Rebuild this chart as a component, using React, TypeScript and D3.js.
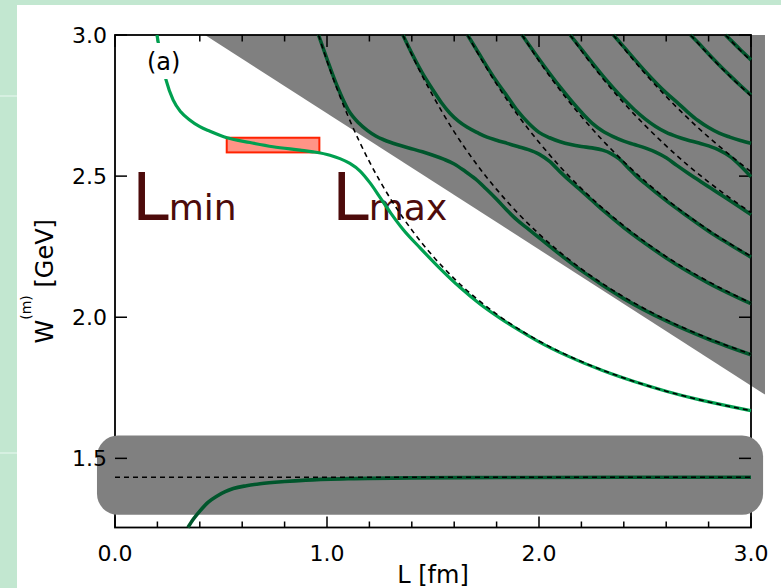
import React from 'react';
import * as d3 from 'd3';

// ---- data ----
const xMajor = [0, 1, 2, 3];
const xMajorLabels = ['0.0', '1.0', '2.0', '3.0'];
const xMinor = [0.2, 0.4, 0.6, 0.8, 1.2, 1.4, 1.6, 1.8, 2.2, 2.4, 2.6, 2.8];
const yMajor = [1.5, 2.0, 2.5, 3.0];
const yMajorLabels = ['1.5', '2.0', '2.5', '3.0'];

// gray excluded regions
const wedgeL = [0.4245, 3.066, 3.066];
const wedgeW = [3.0, 3.0, 1.726];
const bandL = [-0.085, 3.057];
const bandW = [1.300, 1.581];

// plateau box
const boxL = [0.527, 0.964];
const boxW = [2.584, 2.636];

// threshold (dashed horizontal)
const thresholdW = 1.433;

// free levels (dashed)
const free1 = [[0.96,3.0],[1.0,2.908],[1.05,2.804],[1.1,2.711],[1.15,2.627],[1.2,2.551],[1.3,2.419],[1.4,2.309],[1.5,2.216],[1.6,2.137],[1.8,2.011],[2.0,1.916],[2.2,1.843],[2.4,1.785],[2.6,1.738],[2.8,1.700],[3.0,1.669]];
const free2 = [[1.358,3.0],[1.4,2.930],[1.45,2.854],[1.5,2.784],[1.6,2.657],[1.7,2.548],[1.8,2.453],[1.9,2.369],[2.0,2.295],[2.2,2.171],[2.4,2.072],[2.6,1.991],[2.8,1.925],[3.0,1.869]];
const free3 = [[1.663,3.0],[1.7,2.950],[1.8,2.826],[1.9,2.716],[2.0,2.620],[2.1,2.533],[2.2,2.456],[2.4,2.324],[2.6,2.215],[2.8,2.126],[3.0,2.050]];
const free4 = [[1.92,3.0],[2.0,2.908],[2.1,2.804],[2.2,2.711],[2.3,2.627],[2.4,2.551],[2.5,2.482],[2.6,2.419],[2.8,2.309],[3.0,2.216]];
const free5 = [[2.147,3.0],[2.2,2.944],[2.3,2.847],[2.4,2.759],[2.5,2.680],[2.6,2.607],[2.7,2.540],[2.8,2.479],[2.9,2.423],[3.0,2.371]];
const free6 = [[2.351,3.0],[2.4,2.953],[2.5,2.864],[2.6,2.782],[2.7,2.707],[2.8,2.638],[2.9,2.575],[3.0,2.516]];
const free8 = [[2.715,3.0],[2.8,2.930],[2.9,2.854],[3.0,2.784]];
const free9 = [[2.88,3.0],[2.95,2.945],[3.0,2.908]];

// interacting levels (green)
const level0 = [[0.344,1.255],[0.37,1.285],[0.401,1.314],[0.44,1.345],[0.48,1.366],[0.52,1.382],[0.558,1.393],[0.62,1.403],[0.684,1.410],[0.8,1.418],[0.9,1.423],[1.1,1.428],[1.4,1.431],[1.8,1.432],[2.4,1.433],[3.0,1.433]];
const level1 = [[0.198,3.0],[0.217,2.92],[0.241,2.84],[0.274,2.77],[0.311,2.727],[0.354,2.698],[0.40,2.675],[0.448,2.659],[0.528,2.636],[0.637,2.619],[0.745,2.604],[0.873,2.592],[0.934,2.586],[1.014,2.574],[1.061,2.562],[1.108,2.545],[1.156,2.518],[1.203,2.476],[1.25,2.425],[1.30,2.37],[1.36,2.31],[1.44,2.245],[1.53,2.175],[1.627,2.106],[1.72,2.048],[1.816,1.997],[1.9,1.957],[2.0,1.913],[2.131,1.864],[2.30,1.811],[2.445,1.773],[2.6,1.738],[2.759,1.707],[2.9,1.684],[3.0,1.669]];
const level2 = [[0.96,3.0],[1.0,2.915],[1.05,2.815],[1.1,2.735],[1.15,2.688],[1.19,2.662],[1.23,2.642],[1.27,2.628],[1.33,2.612],[1.39,2.599],[1.45,2.586],[1.5,2.574],[1.55,2.560],[1.6,2.543],[1.65,2.518],[1.7,2.490],[1.75,2.455],[1.8,2.418],[1.85,2.378],[1.9,2.342],[1.95,2.312],[2.0,2.282],[2.1,2.222],[2.2,2.165],[2.4,2.066],[2.6,1.987],[2.8,1.922],[3.0,1.867]];
const level3 = [[1.358,3.0],[1.4,2.935],[1.45,2.865],[1.5,2.805],[1.54,2.760],[1.58,2.723],[1.62,2.695],[1.66,2.674],[1.71,2.654],[1.755,2.638],[1.8,2.627],[1.85,2.616],[1.9,2.605],[1.95,2.594],[2.0,2.578],[2.05,2.552],[2.1,2.515],[2.15,2.480],[2.2,2.448],[2.3,2.380],[2.4,2.318],[2.5,2.262],[2.6,2.210],[2.8,2.121],[3.0,2.048]];
const level4 = [[1.663,3.0],[1.7,2.955],[1.8,2.835],[1.85,2.783],[1.9,2.730],[1.95,2.688],[2.0,2.655],[2.05,2.636],[2.1,2.622],[2.15,2.612],[2.2,2.605],[2.25,2.600],[2.3,2.592],[2.34,2.580],[2.38,2.560],[2.42,2.530],[2.46,2.500],[2.5,2.474],[2.6,2.413],[2.7,2.358],[2.8,2.305],[2.9,2.258],[3.0,2.213]];
const level5 = [[1.92,3.0],[2.0,2.915],[2.1,2.815],[2.2,2.726],[2.25,2.688],[2.3,2.660],[2.35,2.640],[2.4,2.624],[2.45,2.612],[2.5,2.600],[2.55,2.585],[2.6,2.565],[2.65,2.538],[2.7,2.512],[2.75,2.487],[2.8,2.462],[2.9,2.414],[3.0,2.364]];
const level6 = [[2.147,3.0],[2.2,2.950],[2.3,2.856],[2.4,2.772],[2.45,2.735],[2.5,2.703],[2.55,2.676],[2.6,2.655],[2.65,2.640],[2.7,2.628],[2.75,2.618],[2.8,2.607],[2.85,2.592],[2.9,2.570],[2.95,2.537],[3.0,2.498]];
const level7 = [[2.351,3.0],[2.4,2.958],[2.5,2.872],[2.6,2.795],[2.65,2.762],[2.7,2.728],[2.75,2.697],[2.8,2.672],[2.85,2.652],[2.9,2.638],[2.95,2.626],[3.0,2.616]];
const level8 = [[2.715,3.0],[2.75,2.973],[2.8,2.933],[2.85,2.894],[2.9,2.857],[2.95,2.821],[3.0,2.787]];
const level9 = [[2.88,3.0],[2.95,2.948],[3.0,2.912]];

const freeLevels = [free1, free2, free3, free4, free5, free6, free8, free9];
const darkLevels = [level0, level2, level3, level4, level5, level6, level7, level8, level9];

const FONT = '"DejaVu Sans", Verdana, sans-serif';
const DARK = '#00562c';
const LIGHT = '#00a050';
const LABEL = '#4d0b0b';

export default function App() {
  const x = d3.scaleLinear().domain([0, 3]).range([115, 751]);
  const y = d3.scaleLinear().domain([1.255, 3.0]).range([527.5, 35]);
  const line = d3.line<number[]>().x(d => x(d[0])).y(d => y(d[1])).curve(d3.curveMonotoneX);

  const x0 = x(0), x1 = x(3), yTop = y(3.0), yBot = y(1.255);
  const wedge = wedgeL.map((l, i) => `${x(l)},${y(wedgeW[i])}`).join(' ');

  return (
    <div style={{ position: 'absolute', left: 0, top: 0 }}>
      <svg width={781} height={588} style={{ display: 'block' }}>
        <rect x={0} y={0} width={781} height={588} fill="#c2e7d0" />
        <rect x={0} y={95} width={17} height={2} fill="#d6f0e1" />
        <rect x={0} y={452} width={17} height={2} fill="#d6f0e1" />
        <rect x={17} y={5} width={764} height={583} fill="#ffffff" />

        {/* gray wedge */}
        <polygon points={wedge} fill="#808080" />

        {/* frame */}
        <rect x={x0} y={yTop} width={x1 - x0} height={yBot - yTop} fill="none" stroke="#000" strokeWidth={1.8} />

        {/* gray band */}
        <rect x={x(bandL[0])} y={y(bandW[1])} width={x(bandL[1]) - x(bandL[0])} height={y(bandW[0]) - y(bandW[1])} rx={21} ry={21} fill="#808080" />

        {/* ticks */}
        {xMajor.map(v => (
          <g key={'xm' + v}>
            <line x1={x(v)} x2={x(v)} y1={yBot} y2={yBot - 11} stroke="#000" strokeWidth={1.5} />
            <line x1={x(v)} x2={x(v)} y1={yTop} y2={yTop + 12} stroke="#000" strokeWidth={1.5} />
          </g>
        ))}
        {xMinor.map(v => (
          <g key={'xn' + v}>
            <line x1={x(v)} x2={x(v)} y1={yBot} y2={yBot - 6} stroke="#000" strokeWidth={1.5} />
            <line x1={x(v)} x2={x(v)} y1={yTop} y2={yTop + 6.5} stroke="#000" strokeWidth={1.5} />
          </g>
        ))}
        {yMajor.map(v => (
          <g key={'ym' + v}>
            <line x1={x0} x2={x0 + 12} y1={y(v)} y2={y(v)} stroke="#000" strokeWidth={1.5} />
            <line x1={x1} x2={x1 - 12} y1={y(v)} y2={y(v)} stroke="#000" strokeWidth={1.5} />
          </g>
        ))}

        {/* big labels */}
        <text x={132} y={220} fill={LABEL} fontFamily={FONT} fontSize={66}>L<tspan fontSize={36}>min</tspan></text>
        <text x={332} y={220} fill={LABEL} fontFamily={FONT} fontSize={66}>L<tspan fontSize={36}>max</tspan></text>

        {/* plateau box */}
        <rect x={x(boxL[0])} y={y(boxW[1])} width={x(boxL[1]) - x(boxL[0])} height={y(boxW[0]) - y(boxW[1])} fill="#ff9486" stroke="#ff2200" strokeWidth={2} />

        {/* interacting levels */}
        {darkLevels.map((lv, i) => (
          <path key={'d' + i} d={line(lv) || ''} fill="none" stroke={DARK} strokeWidth={3.6} />
        ))}
        <path d={line(level1) || ''} fill="none" stroke={LIGHT} strokeWidth={3.2} />

        {/* free levels */}
        {freeLevels.map((lv, i) => (
          <path key={'f' + i} d={line(lv) || ''} fill="none" stroke="#000" strokeWidth={1.6} strokeDasharray="5,4" />
        ))}
        <line x1={x0} x2={x1} y1={y(thresholdW)} y2={y(thresholdW)} stroke="#000" strokeWidth={1.6} strokeDasharray="5,4" />

        {/* panel tag */}
        <rect x={145} y={43} width={37} height={36} fill="#fff" />
        <text x={163.7} y={70} textAnchor="middle" fontFamily={FONT} fontSize={24} fill="#000">(a)</text>

        {/* tick labels */}
        {xMajor.map((v, i) => (
          <text key={'xl' + v} x={x(v)} y={561} textAnchor="middle" fontFamily={FONT} fontSize={22} fill="#000">{xMajorLabels[i]}</text>
        ))}
        {yMajor.map((v, i) => (
          <text key={'yl' + v} x={107} y={y(v) + 8} textAnchor="end" fontFamily={FONT} fontSize={22} fill="#000">{yMajorLabels[i]}</text>
        ))}

        {/* axis titles */}
        <text x={(x0 + x1) / 2} y={583} textAnchor="middle" fontFamily={FONT} fontSize={24} fill="#000">L [fm]</text>
        <text transform={`translate(53,${(yTop + yBot) / 2}) rotate(-90)`} textAnchor="middle" fontFamily={FONT} fontSize={24} fill="#000">
          W<tspan fontSize={14} dy={-22}>(m)</tspan><tspan dy={22}> [GeV]</tspan>
        </text>
      </svg>
    </div>
  );
}
